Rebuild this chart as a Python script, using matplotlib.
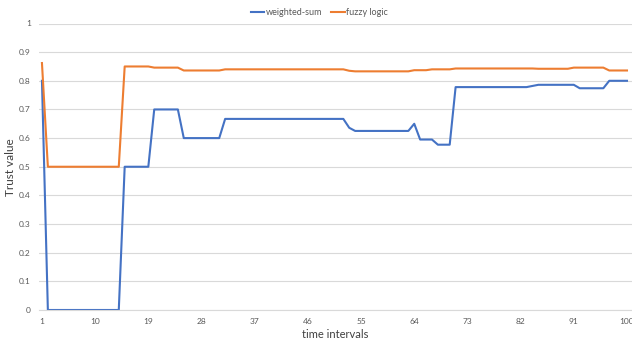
import matplotlib
matplotlib.use("Agg")
import matplotlib.pyplot as plt
import numpy as np
from matplotlib.ticker import FuncFormatter

plt.rcParams['font.family'] = ['Lato', 'DejaVu Sans']

# time intervals 1..100
intervals = list(range(1, 101))

weighted_sum = [
    0.80, 0.0, 0.0, 0.0, 0.0, 0.0, 0.0, 0.0, 0.0, 0.0,
    0.0, 0.0, 0.0, 0.0, 0.5, 0.5, 0.5, 0.5, 0.5, 0.7,
    0.7, 0.7, 0.7, 0.7, 0.6, 0.6, 0.6, 0.6, 0.6, 0.6,
    0.6, 0.667, 0.667, 0.667, 0.667, 0.667, 0.667, 0.667, 0.667, 0.667,
    0.667, 0.667, 0.667, 0.667, 0.667, 0.667, 0.667, 0.667, 0.667, 0.667,
    0.667, 0.667, 0.636, 0.625, 0.625, 0.625, 0.625, 0.625, 0.625, 0.625,
    0.625, 0.625, 0.625, 0.65, 0.595, 0.595, 0.595, 0.577, 0.577, 0.577,
    0.778, 0.778, 0.778, 0.778, 0.778, 0.778, 0.778, 0.778, 0.778, 0.778,
    0.778, 0.778, 0.778, 0.782, 0.786, 0.786, 0.786, 0.786, 0.786, 0.786,
    0.786, 0.774, 0.774, 0.774, 0.774, 0.774, 0.80, 0.80, 0.80, 0.80,
]

fuzzy_logic = [
    0.862, 0.5, 0.5, 0.5, 0.5, 0.5, 0.5, 0.5, 0.5, 0.5,
    0.5, 0.5, 0.5, 0.5, 0.85, 0.85, 0.85, 0.85, 0.85, 0.846,
    0.846, 0.846, 0.846, 0.846, 0.836, 0.836, 0.836, 0.836, 0.836, 0.836,
    0.836, 0.84, 0.84, 0.84, 0.84, 0.84, 0.84, 0.84, 0.84, 0.84,
    0.84, 0.84, 0.84, 0.84, 0.84, 0.84, 0.84, 0.84, 0.84, 0.84,
    0.84, 0.84, 0.835, 0.833, 0.833, 0.833, 0.833, 0.833, 0.833, 0.833,
    0.833, 0.833, 0.833, 0.837, 0.837, 0.837, 0.84, 0.84, 0.84, 0.84,
    0.843, 0.843, 0.843, 0.843, 0.843, 0.843, 0.843, 0.843, 0.843, 0.843,
    0.843, 0.843, 0.843, 0.843, 0.842, 0.842, 0.842, 0.842, 0.842, 0.842,
    0.846, 0.846, 0.846, 0.846, 0.846, 0.846, 0.836, 0.836, 0.836, 0.836,
]

x_ticks = list(range(1, 101, 9))
y_ticks = [0, 0.1, 0.2, 0.3, 0.4, 0.5, 0.6, 0.7, 0.8, 0.9, 1]

fig = plt.figure(figsize=(6.32, 3.48), dpi=100)
ax = fig.add_axes([39 / 632, 38 / 348, 593 / 632, 286.5 / 348])

ax.plot(intervals, weighted_sum, color='#4472C4', lw=1.5, label='weighted-sum')
ax.plot(intervals, fuzzy_logic, color='#ED7D31', lw=1.5, label='fuzzy logic')

ax.set_xlim(0.5, 100.85)
ax.set_ylim(0, 1)
ax.set_xticks(x_ticks)
ax.set_yticks(y_ticks)
ax.yaxis.set_major_formatter(FuncFormatter(lambda v, p: '%g' % v))
ax.tick_params(axis='both', length=0, labelsize=6, colors='#595959', pad=6)
ax.tick_params(axis='y', pad=5.8)

ax.grid(axis='y', color='#d9d9d9', lw=0.8)
ax.set_axisbelow(True)
for s in ['top', 'right', 'left']:
    ax.spines[s].set_visible(False)
ax.spines['bottom'].set_color('#d9d9d9')
ax.spines['bottom'].set_linewidth(0.8)

ax.set_xlabel('time intervals', fontsize=8, color='#404040', labelpad=3)
ax.set_ylabel('Trust value', fontsize=8.5, color='#404040')
ax.yaxis.set_label_coords(-0.039, 0.5)

fig.legend(loc='upper center', bbox_to_anchor=(0.505, 1.0), ncol=2, frameon=False,
           fontsize=6.5, handlelength=1.5, columnspacing=1.0, handletextpad=0.15,
           labelcolor='#595959')

fig.savefig('out.png', dpi=100)
